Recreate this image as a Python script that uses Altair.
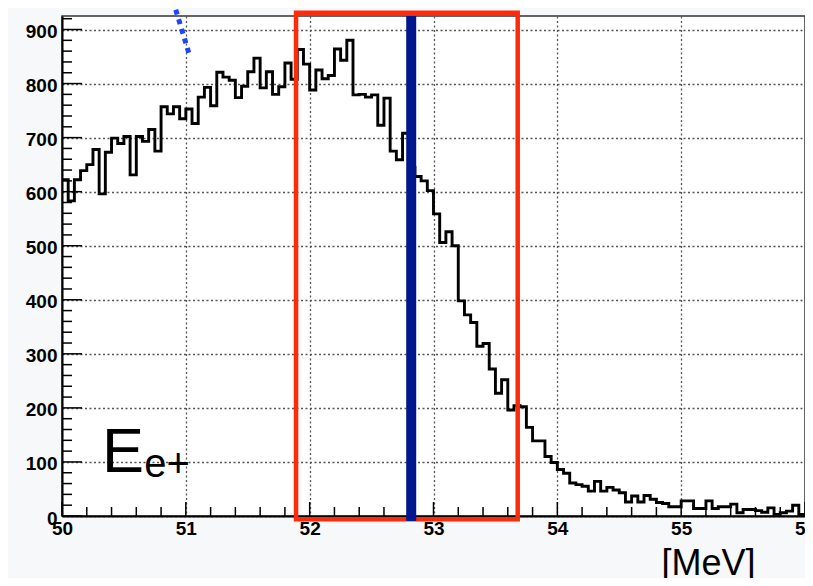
import altair as alt
import pandas as pd

# ---- data ----
BIN_START = 50.0
BIN_WIDTH = 0.05
counts = [
    622, 583, 622, 639, 650, 678, 596, 673, 699, 689,
    702, 631, 702, 693, 715, 675, 757, 744, 757, 735,
    753, 726, 775, 793, 759, 821, 812, 806, 774, 795,
    822, 847, 792, 822, 780, 794, 838, 808, 863, 836,
    788, 825, 809, 815, 864, 843, 880, 779, 780, 775,
    779, 723, 773, 675, 659, 708, 645, 628, 620, 602,
    559, 506, 526, 500, 398, 372, 358, 314, 319, 272,
    227, 252, 196, 204, 202, 164, 139, 139, 110, 99,
    86, 79, 61, 58, 55, 46, 64, 46, 53, 48,
    43, 26, 37, 26, 38, 31, 25, 23, 17, 17,
    28, 28, 14, 14, 28, 14, 17, 17, 22, 6,
    12, 12, 10, 7, 15, 3, 6, 9, 20, 3,
]
x_tick_labels = [50, 51, 52, 53, 54, 55, 56]
y_tick_labels = [0, 100, 200, 300, 400, 500, 600, 700, 800, 900]
x_minor = [50.2, 50.4, 50.6, 50.8, 51.2, 51.4, 51.6, 51.8, 52.2, 52.4, 52.6, 52.8,
           53.2, 53.4, 53.6, 53.8, 54.2, 54.4, 54.6, 54.8, 55.2, 55.4, 55.6, 55.8]
y_minor = [v + d for v in y_tick_labels for d in (20, 40, 60, 80) if v + d < 925]

# annotation box / lines
box_x = [51.89]
box_x2 = [53.68]
box_y = [-6]
box_y2 = [931]
cut_x = [52.82]
dotted_x = [50.872, 51.03]
dotted_y = [972, 852]

edges = [round(BIN_START + BIN_WIDTH * i, 4) for i in range(len(counts) + 1)]
hist = pd.DataFrame({"x": edges, "y": counts + [counts[-1]]})

xs = alt.Scale(domain=[50, 56], nice=False, zero=False)
ys = alt.Scale(domain=[0, 925], nice=False, zero=False)

FONT = "Liberation Sans"

base_axes = alt.Chart(pd.DataFrame({"x": [50], "y": [0]})).mark_point(opacity=0).encode(
    x=alt.X("x:Q", scale=xs,
            axis=alt.Axis(values=x_tick_labels, format="d", grid=True, ticks=False, tickSize=0,
                          domain=True, domainColor="black", domainWidth=2,
                          labelFont=FONT, labelFontWeight="bold", labelFontSize=19,
                          labelColor="black", labelPadding=3, labelBaseline="top",
                          labelFlush=False, labelOverlap=False,
                          gridDash=[2, 2.5], gridColor="#555555", gridWidth=1.3,
                          title="[MeV]", titleFont=FONT, titleFontWeight="normal",
                          titleFontSize=36, titleColor="black", titleX=693, titleY=58,
                          titleAlign="right", titleBaseline="alphabetic")),
    y=alt.Y("y:Q", scale=ys,
            axis=alt.Axis(values=y_tick_labels, format="d", grid=True, ticks=False, tickSize=0,
                          domain=True, domainColor="black", domainWidth=2,
                          labelFont=FONT, labelFontWeight="bold", labelFontSize=19,
                          labelColor="black", labelPadding=5, labelOffset=2,
                          labelFlush=False, labelOverlap=False,
                          gridDash=[2, 2.5], gridColor="#555555", gridWidth=1.3,
                          title=None)),
)

ymaj = alt.Chart(pd.DataFrame({"v": y_tick_labels})).mark_rule(color="black", strokeWidth=1.5).encode(
    y=alt.Y("v:Q", scale=ys), x=alt.value(0), x2=alt.value(20))
ymin = alt.Chart(pd.DataFrame({"v": y_minor})).mark_rule(color="black", strokeWidth=1.5).encode(
    y=alt.Y("v:Q", scale=ys), x=alt.value(0), x2=alt.value(10))
xmaj = alt.Chart(pd.DataFrame({"v": x_tick_labels})).mark_rule(color="black", strokeWidth=1.5).encode(
    x=alt.X("v:Q", scale=xs), y=alt.value(500), y2=alt.value(486))
xmin = alt.Chart(pd.DataFrame({"v": x_minor})).mark_rule(color="black", strokeWidth=1.5).encode(
    x=alt.X("v:Q", scale=xs), y=alt.value(500), y2=alt.value(491))

line = alt.Chart(hist).mark_line(interpolate="step-after", color="black", strokeWidth=2.9,
                                 strokeJoin="miter").encode(
    x=alt.X("x:Q", scale=xs), y=alt.Y("y:Q", scale=ys))

box = alt.Chart(pd.DataFrame({"x": box_x, "x2": box_x2, "y": box_y, "y2": box_y2})).mark_rect(
    fill=None, fillOpacity=0, stroke="#ff2a0a", strokeWidth=4.5).encode(
    x=alt.X("x:Q", scale=xs), x2="x2:Q", y=alt.Y("y:Q", scale=ys), y2="y2:Q")

cut = alt.Chart(pd.DataFrame({"x": cut_x})).mark_rule(color="#00168c", strokeWidth=10).encode(
    x=alt.X("x:Q", scale=xs), y=alt.value(0), y2=alt.value(505))

dotted = alt.Chart(pd.DataFrame({"x": dotted_x, "y": dotted_y})).mark_line(
    color="#1f44ff", strokeWidth=5, strokeDash=[5, 5]).encode(
    x=alt.X("x:Q", scale=xs), y=alt.Y("y:Q", scale=ys))

label_E = alt.Chart(pd.DataFrame({"x": [50.323], "y": [80.5], "t": ["E"]})).mark_text(
    font=FONT, fontSize=63, align="left", baseline="alphabetic", color="black").encode(
    x=alt.X("x:Q", scale=xs), y=alt.Y("y:Q", scale=ys), text="t:N")
label_sub = alt.Chart(pd.DataFrame({"x": [50.665], "y": [73], "t": ["e+"]})).mark_text(
    font=FONT, fontSize=40, align="left", baseline="alphabetic", color="black").encode(
    x=alt.X("x:Q", scale=xs), y=alt.Y("y:Q", scale=ys), text="t:N")

chart = alt.layer(
    base_axes, ymin, ymaj, xmin, xmaj, line, box, cut, dotted, label_E, label_sub
).properties(
    width=743, height=500,
    autosize=alt.AutoSizeParams(type="none"),
    padding={"left": 54, "top": 8, "right": 0, "bottom": 62},
    background="#f7f8fa",
).configure_view(
    stroke="#333333", strokeWidth=1.5, fill="white"
)

chart.save("out.html", embed_options={"renderer": "svg", "actions": False})
